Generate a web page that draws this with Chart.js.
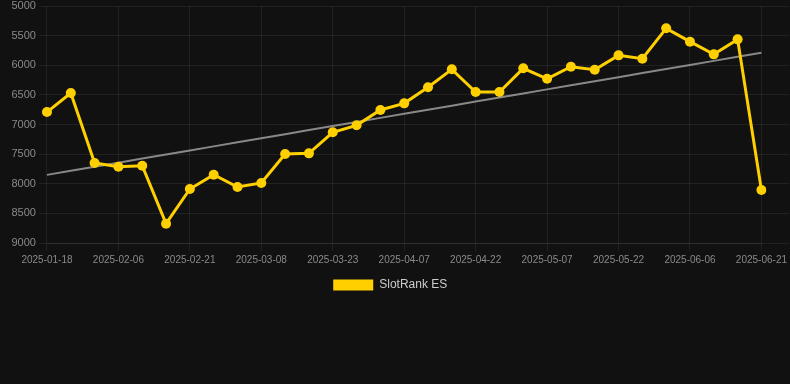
<!DOCTYPE html>
<html>
<head>
<meta charset="utf-8">
<script src="https://cdn.jsdelivr.net/npm/chart.js@4/dist/chart.umd.min.js"></script>
<style>
  html, body { margin: 0; padding: 0; background: #111111; }
  #wrap { width: 790px; height: 301px; position: relative; }
</style>
</head>
<body>
<div id="wrap"><canvas id="c"></canvas></div>
<script>
const categories = [
  '2025-01-18','2025-01-26','2025-02-01','2025-02-06','2025-02-11','2025-02-16',
  '2025-02-21','2025-02-26','2025-03-03','2025-03-08','2025-03-13','2025-03-18',
  '2025-03-23','2025-03-28','2025-04-02','2025-04-07','2025-04-12','2025-04-17',
  '2025-04-22','2025-04-27','2025-05-02','2025-05-07','2025-05-12','2025-05-17',
  '2025-05-22','2025-05-27','2025-06-01','2025-06-06','2025-06-11','2025-06-16',
  '2025-06-21'
];
const rankValues = [
  6790, 6468, 7650, 7712, 7695, 8674, 8089, 7847, 8055, 7987, 7498, 7487,
  7132, 7014, 6755, 6643, 6372, 6069, 6451, 6451, 6052, 6228, 6024, 6075,
  5833, 5890, 5377, 5602, 5816, 5563, 8105
];
const yTicks = [5000, 5500, 6000, 6500, 7000, 7500, 8000, 8500, 9000];
const seriesName = 'SlotRank ES';

// least-squares trend derived from the series
function trend(vals) {
  const n = vals.length;
  let sx = 0, sy = 0, sxy = 0, sxx = 0;
  vals.forEach((v, i) => { sx += i; sy += v; sxy += i * v; sxx += i * i; });
  const m = (n * sxy - sx * sy) / (n * sxx - sx * sx);
  const b = (sy - m * sx) / n;
  return vals.map((_, i) => b + m * i);
}
const trendValues = trend(rankValues);

const gridColor = 'rgba(255,255,255,0.07)';
const tickColor = '#8a8a8a';
const fontFamily = 'Liberation Sans, Arial, sans-serif';

const legendShift = {
  id: 'legendShift',
  afterLayout(chart) {
    if (chart.legend) { chart.legend.left -= 9; chart.legend.right -= 9; }
  }
};

new Chart(document.getElementById('c'), {
  type: 'line',
  data: {
    labels: categories,
    datasets: [
      {
        label: seriesName,
        data: rankValues,
        borderColor: '#FFD000',
        backgroundColor: '#FFD000',
        borderWidth: 3,
        pointRadius: 5,
        pointBorderWidth: 0,
        pointHoverRadius: 5,
        pointBackgroundColor: '#FFD000',
        pointBorderColor: '#FFD000',
        tension: 0,
        yAxisID: 'y'
      },
      {
        label: 'trend',
        data: trendValues,
        borderColor: 'rgba(150,150,150,0.9)',
        borderWidth: 2,
        pointRadius: 0,
        pointHoverRadius: 0,
        fill: false,
        yAxisID: 'y'
      }
    ]
  },
  plugins: [legendShift],
  options: {
    responsive: true,
    maintainAspectRatio: false,
    animation: false,
    layout: { padding: { left: 8.5, right: 0, top: 0, bottom: 0 } },
    plugins: {
      legend: {
        position: 'bottom',
        labels: {
          color: '#cccccc',
          font: { size: 12, family: fontFamily },
          boxWidth: 40,
          boxHeight: 11,
          filter: (item) => item.text !== 'trend',
          generateLabels: (chart) => Chart.defaults.plugins.legend.labels.generateLabels(chart)
            .map(l => Object.assign(l, { lineWidth: 0 }))
        }
      },
      tooltip: { enabled: false }
    },
    scales: {
      x: {
        grid: { color: gridColor, tickLength: 8 },
        border: { color: gridColor },
        ticks: {
          color: tickColor,
          font: { size: 10, family: fontFamily },
          maxRotation: 0,
          autoSkip: true,
          callback: function (val, idx) { return idx % 3 === 0 ? categories[idx] : null; }
        }
      },
      y: {
        reverse: true,
        min: 5000,
        max: 9000,
        afterBuildTicks: (axis) => { axis.ticks = yTicks.map(v => ({ value: v })); },
        afterFit: (axis) => { axis.paddingTop = 6; },
        grid: { color: gridColor, tickLength: 8 },
        border: { display: false },
        ticks: {
          color: tickColor,
          font: { size: 11, family: fontFamily },
          padding: 3,
          callback: (v) => String(v)
        }
      },
      y2: {
        position: 'right',
        reverse: true,
        min: 5000,
        max: 9000,
        afterBuildTicks: (axis) => { axis.ticks = yTicks.map(v => ({ value: v })); },
        afterFit: (axis) => { axis.paddingTop = 6; },
        grid: { color: gridColor, tickLength: 28, drawOnChartArea: false },
        border: { display: false },
        ticks: { display: false }
      }
    }
  }
});
</script>
</body>
</html>
